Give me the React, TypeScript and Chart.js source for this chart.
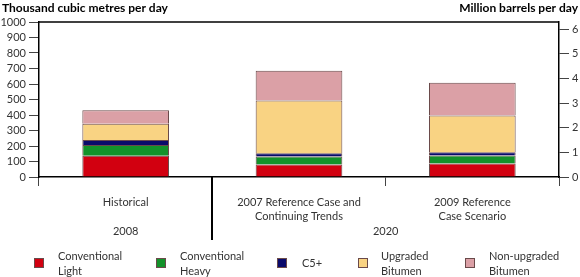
import React, { useEffect, useRef } from 'react';
import { Chart, registerables } from 'chart.js';

Chart.register(...registerables);

const categories: string[][] = [
  ['Historical'],
  ['2007 Reference Case and', 'Continuing Trends'],
  ['2009 Reference', 'Case Scenario'],
];
const groupLabels = ['2008', '2020'];
const groupSpans: number[][] = [[0, 0], [1, 2]];

const seriesNames: string[][] = [
  ['Conventional', 'Light'],
  ['Conventional', 'Heavy'],
  ['C5+'],
  ['Upgraded', 'Bitumen'],
  ['Non-upgraded', 'Bitumen'],
];
const conventionalLight = [137, 80, 87];
const conventionalHeavy = [70, 52, 51];
const c5plus = [32, 21, 22];
const upgradedBitumen = [104, 341, 237];
const nonUpgradedBitumen = [88, 191, 211];

const leftTicks = [0, 100, 200, 300, 400, 500, 600, 700, 800, 900, 1000];
const rightTicks = [0, 1, 2, 3, 4, 5, 6];
const rightTicksMax = 1000 / 158.987;

const colors = ['#d20010', '#13922a', '#0a0a6b', '#f9d383', '#dba0a6'];
const borderCol = '#6a4a4a';
const FONT = 'Lato, "Open Sans", sans-serif';

const overlayPlugin = {
  id: 'overlay',
  afterDraw(chart: any) {
    const ctx = chart.ctx as CanvasRenderingContext2D;
    const ca = chart.chartArea;
    const xs = chart.scales.x;
    ctx.save();
    // titles
    ctx.fillStyle = '#000';
    ctx.font = `bold 12px ${FONT}`;
    ctx.textBaseline = 'middle';
    ctx.textAlign = 'left';
    ctx.fillText('Thousand cubic metres per day', 2, 8);
    ctx.textAlign = 'right';
    ctx.fillText('Million barrels per day', 578, 8);
    // top border
    ctx.strokeStyle = '#000';
    ctx.lineWidth = 1.5;
    ctx.beginPath();
    ctx.moveTo(ca.left, ca.top);
    ctx.lineTo(ca.right, ca.top);
    ctx.stroke();
    // divider between groups
    const divX = (xs.getPixelForValue(0) + xs.getPixelForValue(1)) / 2;
    ctx.lineWidth = 2;
    ctx.beginPath();
    ctx.moveTo(Math.round(divX), ca.bottom);
    ctx.lineTo(Math.round(divX), 240);
    ctx.stroke();
    // group labels
    ctx.fillStyle = '#333';
    ctx.font = `11px ${FONT}`;
    ctx.textAlign = 'center';
    groupLabels.forEach((g, i) => {
      const [a, b] = groupSpans[i];
      const cx = (xs.getPixelForValue(a) + xs.getPixelForValue(b)) / 2;
      ctx.fillText(g, cx, 231);
    });
    // legend
    const markerX = [34, 156, 277, 358, 465];
    const textX = [58, 180, 302, 381, 489];
    ctx.textAlign = 'left';
    seriesNames.forEach((name, i) => {
      ctx.fillStyle = colors[i];
      ctx.fillRect(markerX[i], 258, 10, 10);
      ctx.strokeStyle = borderCol;
      ctx.lineWidth = 1;
      ctx.strokeRect(markerX[i] + 0.5, 258.5, 9, 9);
      ctx.fillStyle = '#333';
      if (name.length === 1) {
        ctx.fillText(name[0], textX[i], 263);
      } else {
        ctx.fillText(name[0], textX[i], 256);
        ctx.fillText(name[1], textX[i], 271);
      }
    });
    ctx.restore();
  },
};

export default function App() {
  const ref = useRef<HTMLCanvasElement>(null);
  useEffect(() => {
    if (!ref.current) return;
    const series = [conventionalLight, conventionalHeavy, c5plus, upgradedBitumen, nonUpgradedBitumen];
    const chart = new Chart(ref.current, {
      type: 'bar',
      data: {
        labels: categories,
        datasets: series.map((d, i) => ({
          label: seriesNames[i].join(' '),
          data: d,
          backgroundColor: colors[i],
          borderColor: borderCol,
          borderWidth: 1,
          barPercentage: 0.5,
          categoryPercentage: 1,
          yAxisID: 'y',
        })),
      },
      options: {
        responsive: false,
        animation: false,
        maintainAspectRatio: false,
        layout: { padding: { top: 22, left: 0, right: 0, bottom: 0 } },
        plugins: { legend: { display: false }, tooltip: { enabled: false } },
        scales: {
          x: {
            stacked: true,
            offset: true,
            grid: { display: true, drawOnChartArea: false, offset: true, tickLength: 9, color: '#444', lineWidth: 1 },
            border: { display: true, color: '#000', width: 1.5 },
            ticks: { padding: 9, color: '#333', font: { family: FONT, size: 11, lineHeight: 1.27 }, maxRotation: 0, autoSkip: false },
            afterFit: (s: any) => { s.height = 100; },
          },
          y: {
            stacked: true,
            position: 'left',
            min: leftTicks[0],
            max: leftTicks[leftTicks.length - 1],
            afterBuildTicks: (s: any) => { s.ticks = leftTicks.map((v) => ({ value: v })); },
            ticks: {
              autoSkip: false, padding: 3, color: '#333', font: { family: FONT, size: 11 },
              callback: (v: any) => String(v),
            },
            grid: { display: true, drawOnChartArea: false, tickLength: 10, color: '#444' },
            border: { display: true, color: '#000', width: 1.5 },
            afterFit: (s: any) => { s.width = 39; },
          },
          y1: {
            position: 'right',
            min: 0,
            max: rightTicksMax,
            afterBuildTicks: (s: any) => { s.ticks = rightTicks.map((v) => ({ value: v })); },
            ticks: {
              autoSkip: false, padding: 3, color: '#333', font: { family: FONT, size: 11 },
              callback: (v: any) => String(v),
            },
            grid: { display: true, drawOnChartArea: false, tickLength: 10, color: '#444' },
            border: { display: true, color: '#000', width: 1.5 },
            afterFit: (s: any) => { s.width = 21; },
          },
        },
      },
      plugins: [overlayPlugin],
    });
    return () => chart.destroy();
  }, []);
  return (
    <div style={{ position: 'absolute', left: 0, top: 0, width: 580, height: 277, background: '#fff' }}>
      <canvas ref={ref} width={580} height={277} style={{ width: 580, height: 277 }} />
    </div>
  );
}
